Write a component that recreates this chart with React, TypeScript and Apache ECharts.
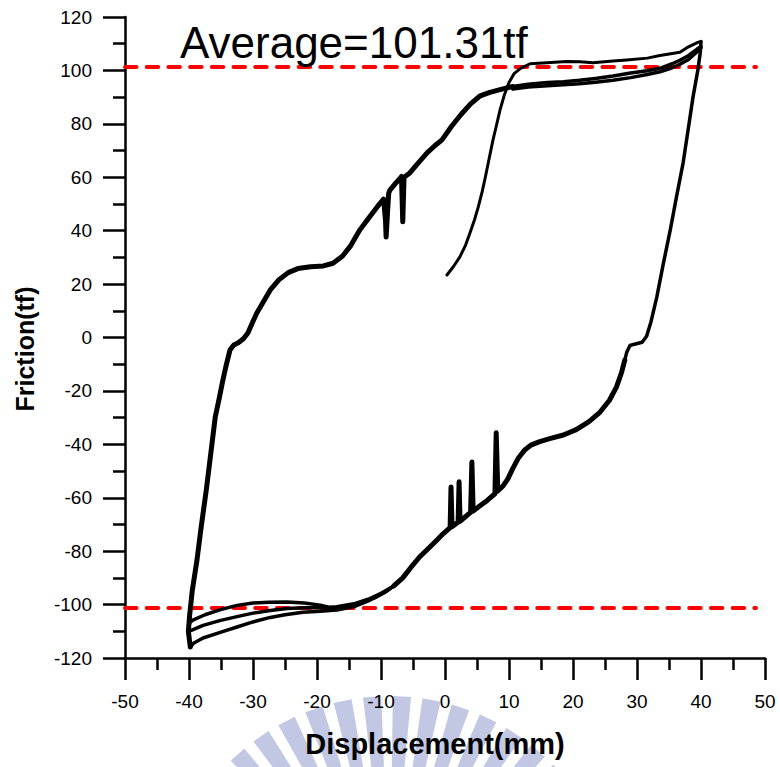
import React, { useEffect, useRef } from 'react';
import * as echarts from 'echarts';

// ---- axis settings ----
const X_MIN = -50, X_MAX = 50, X_STEP = 10;
const Y_MIN = -120, Y_MAX = 120, Y_STEP = 20;
const AVERAGE = 101.31;
const AVG_LINE_END = 48.6;

// ---- hysteresis data: [displacement (mm), friction (tf)] ----
const initialLoading: number[][] = [
  [0.3, 23.4], [1.3, 26.5], [2.3, 30.1], [3.2, 34.5], [3.9, 39.1], [4.6, 44], [5.2, 48.9],
  [5.8, 54.5], [6.3, 60], [6.9, 67], [7.5, 74], [8.0, 79], [8.6, 85.2], [9.3, 91],
  [10.0, 95.5], [10.8, 98.8], [11.8, 100.8], [13.3, 102.5], [15.9, 102.9], [19, 103.3],
  [21.1, 103.2], [23.1, 102.9], [26.25, 103.5], [28.4, 103.9], [31.6, 104.6], [33.6, 105.6],
  [36.7, 106.8], [37.8, 108.5], [39.5, 110.5], [40, 110.8],
];

const rightUnloading: number[][] = [
  [40, 110.8], [39.9, 107], [39.5, 100], [38.75, 90], [38, 78], [37.2, 65.3], [36.2, 53],
  [35.2, 40.3], [34.1, 27.5], [33.1, 15.2], [32.2, 6], [31.5, 0.5], [30.8, -1.8], [29.6, -2.5],
  [28.9, -3], [28.4, -5.5], [28.1, -8.4],
];

const lowerRight: number[][] = [
  [28.1, -8.4], [27.6, -13], [26.8, -18.5], [25.7, -23.5], [24.2, -28], [22.5, -31.5],
  [20.5, -34.5], [18.5, -36.5], [16.5, -37.8], [14.8, -39], [13.5, -40.2], [12.5, -42],
  [11.5, -45], [10.6, -49], [9.8, -53], [9.1, -55.5], [8.25, -57.5], [8.0, -35.7], [7.8, -58.5],
  [6.6, -61], [5.2, -63.5], [4.4, -65], [4.2, -46.6], [4.0, -65.5], [3.0, -67.5], [2.35, -68.8],
  [2.2, -54], [2.05, -69.2], [1.1, -70.8], [0.94, -56], [0.8, -71.2], [-0.3, -73.5],
  [-1.25, -75.8], [-2.6, -79], [-3.9, -82], [-5.3, -86], [-6.6, -90], [-8, -93],
];

const bottomA: number[][] = [
  [-8, -93], [-9.5, -95.5], [-11.7, -98.3], [-14, -100.6], [-16.9, -102], [-19.5, -102.5],
  [-22.2, -102.9], [-25, -103.8], [-27.3, -104.8], [-30, -106.5], [-32.5, -108.4], [-35, -110.3],
  [-37.8, -112.5], [-39.3, -114.5], [-39.8, -115.9],
];
const bottomB: number[][] = [
  [-8, -93], [-9.1, -95], [-11, -97.5], [-12.8, -99], [-14.4, -100.2], [-15.8, -101.4],
  [-16.9, -101.6], [-18.2, -101], [-19.5, -100.2], [-22, -99.4], [-24.7, -99], [-27.5, -99.1],
  [-30, -99.4], [-32.5, -100.3], [-35.2, -102], [-37.5, -103.8], [-39.4, -105.8], [-40, -107],
];
const bottomC: number[][] = [
  [-8, -93], [-10, -95.8], [-12, -98], [-14, -99.6], [-16.9, -100.8], [-19, -101.2],
  [-22, -101.2], [-24.7, -101.5], [-27.3, -102.2], [-30, -103.2], [-32.5, -104.5],
  [-35.2, -106], [-37.8, -107.8], [-40, -110],
];

const leftReloading: number[][] = [
  [-39.8, -115.9], [-40.1, -110], [-39.9, -104], [-39.5, -95], [-38.75, -83.3], [-38.1, -71],
  [-37.3, -57.1], [-36.6, -43.5], [-35.9, -29.8], [-35.3, -23], [-34.8, -17.0], [-34.2, -10.5],
  [-33.6, -4.7], [-33, -2.8], [-32.3, -2.0], [-31.5, -0.5], [-30.8, 1.7], [-30.1, 5.5],
  [-29.4, 9.2], [-28.4, 13.3], [-27.3, 17.8], [-26, 21.5], [-24.5, 24.3], [-23, 25.8],
  [-21, 26.5], [-19, 26.8], [-17.5, 27.8], [-16, 30.5], [-14.7, 34.5], [-13.3, 40.3],
  [-12, 44.5], [-10.6, 48.9], [-9.6, 51.8], [-9.3, 44], [-9.2, 37.6], [-9.0, 46], [-8.8, 54],
  [-8.6, 55.2], [-7.8, 57.5], [-7.0, 59.7], [-6.8, 60.3], [-6.6, 43.3], [-6.4, 60],
  [-5.5, 61.6], [-4.2, 65.3], [-2.8, 69.1], [-1.6, 71.8], [-0.47, 74], [1, 79], [2.5, 83.5],
  [4, 87.5], [5.5, 90.5], [7, 91.8], [8.6, 92.8], [10.6, 94],
];

const topB: number[][] = [
  [10.6, 94], [13, 94.8], [16, 95.5], [18.5, 95.8], [21, 96.3], [23.5, 97], [26.25, 97.9],
  [29, 99], [31.6, 99.9], [33.6, 100.8], [35.5, 102.5], [36.7, 103.8], [38, 105.5],
  [39.4, 108], [40, 109],
];
const topC: number[][] = [
  [10.6, 93], [13, 93.8], [16, 94.3], [18.5, 94.6], [21, 95], [23.5, 95.6], [26.25, 96.3],
  [29, 97.3], [31.6, 98.5], [33.6, 99.5], [35.5, 101], [36.7, 102.3], [38, 104], [39.4, 107],
  [40, 108.5],
];

const FONT = '"Liberation Sans", Arial, Helvetica, sans-serif';

function buildWatermark() {
  const cx = 390, cy = 924, rOut = 228, rIn = 140;
  const els: any[] = [];
  for (let deg = -72; deg <= 72; deg += 7.5) {
    const a0 = ((deg - 2.3) * Math.PI) / 180;
    const a1 = ((deg + 2.3) * Math.PI) / 180;
    const p = (r: number, a: number) => [cx + r * Math.sin(a), cy - r * Math.cos(a)];
    els.push({
      type: 'polygon',
      z: -10,
      silent: true,
      shape: { points: [p(rIn, a0), p(rOut, a0), p(rOut, a1), p(rIn, a1)] },
      style: { fill: '#c2c8e3' },
    });
  }
  return els;
}

const blackLine = (name: string, data: number[][], width: number) => ({
  name,
  type: 'line',
  data,
  showSymbol: false,
  symbol: 'none',
  z: 3,
  lineStyle: { color: '#000', width, join: 'round', cap: 'round' },
});

export default function App() {
  const ref = useRef<HTMLDivElement>(null);
  useEffect(() => {
    if (!ref.current) return;
    const chart = echarts.init(ref.current, null, { renderer: 'svg' });
    const axisCommon = {
      type: 'value',
      axisLine: { show: true, onZero: false, lineStyle: { color: '#000', width: 2.5 } },
      axisTick: { show: true, inside: false, length: 22, lineStyle: { color: '#000', width: 2.5 } },
      minorTick: { show: true, splitNumber: 2, length: 12, lineStyle: { color: '#000', width: 2.5 } },
      splitLine: { show: false },
      minorSplitLine: { show: false },
    };
    const option: any = {
      animation: false,
      backgroundColor: '#fff',
      grid: { left: 125, right: 15, top: 17, bottom: 109, containLabel: false, outerBoundsMode: 'none' },
      xAxis: {
        ...axisCommon,
        min: X_MIN,
        max: X_MAX,
        interval: X_STEP,
        axisLabel: { fontSize: 19, color: '#000', margin: 34, fontFamily: FONT },
        name: 'Displacement(mm)',
        nameLocation: 'middle',
        nameGap: 71,
        nameTextStyle: { fontSize: 29, fontWeight: 'bold', color: '#000', fontFamily: FONT, padding: [0, 20, 0, 0] },
      },
      yAxis: {
        ...axisCommon,
        min: Y_MIN,
        max: Y_MAX,
        interval: Y_STEP,
        axisLabel: { fontSize: 19, color: '#000', margin: 33, fontFamily: FONT },
        name: 'Friction(tf)',
        nameLocation: 'middle',
        nameRotate: 90,
        nameGap: 88,
        nameTextStyle: { fontSize: 25, fontWeight: 'bold', color: '#000', fontFamily: FONT, padding: [0, 23, 0, 0] },
      },
      graphic: [
        ...buildWatermark(),
        {
          type: 'text',
          x: 180,
          y: 42,
          z: 10,
          style: {
            text: `Average=${AVERAGE}tf`,
            font: `44px ${FONT}`,
            fill: '#000',
            align: 'left',
            verticalAlign: 'middle',
          },
        },
      ],
      series: [
        {
          name: 'avg+',
          type: 'line',
          data: [[X_MIN, AVERAGE], [AVG_LINE_END, AVERAGE]],
          showSymbol: false,
          symbol: 'none',
          z: 2,
          lineStyle: { color: '#ff0000', width: 4, type: [11.5, 10.2], cap: 'round' },
        },
        {
          name: 'avg-',
          type: 'line',
          data: [[X_MIN, -AVERAGE], [AVG_LINE_END, -AVERAGE]],
          showSymbol: false,
          symbol: 'none',
          z: 2,
          lineStyle: { color: '#ff0000', width: 4, type: [11.5, 10.2], cap: 'round' },
        },
        blackLine('initial', initialLoading, 3),
        blackLine('rightUnloading', rightUnloading, 3.5),
        blackLine('lowerRight', lowerRight, 5),
        blackLine('bottomA', bottomA, 3.5),
        blackLine('bottomB', bottomB, 3.5),
        blackLine('bottomC', bottomC, 3.5),
        blackLine('leftReloading', leftReloading, 5),
        blackLine('topB', topB, 3.5),
        blackLine('topC', topC, 3.5),
      ],
    };
    chart.setOption(option);
    return () => chart.dispose();
  }, []);
  return (
    <div
      ref={ref}
      style={{ position: 'absolute', left: 0, top: 0, width: 780, height: 767, background: '#fff' }}
    />
  );
}
